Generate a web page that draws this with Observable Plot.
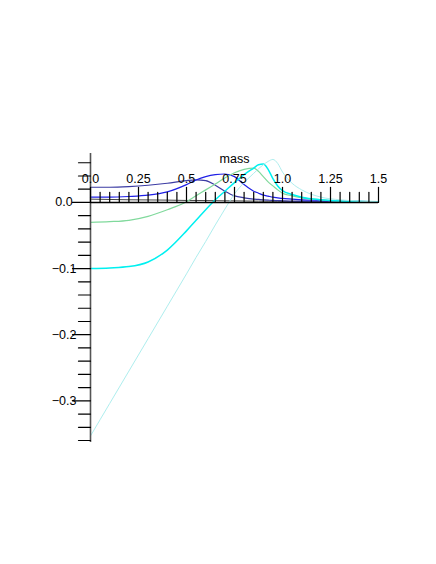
<!DOCTYPE html>
<html>
<head>
<meta charset="utf-8">
<script src="https://cdn.jsdelivr.net/npm/d3@7"></script>
<script src="https://cdn.jsdelivr.net/npm/@observablehq/plot@0.6"></script>
<style>
  html, body { margin: 0; padding: 0; background: #fff; }
  #chart { width: 436px; height: 564px; }
</style>
</head>
<body>
<div id="chart"></div>
<script>
// ---- data ----
const mass = [0, 0.1, 0.2, 0.3, 0.4, 0.5, 0.55, 0.6, 0.65, 0.7, 0.75, 0.8, 0.85, 0.875, 0.9, 0.925, 0.95, 0.975, 1.0, 1.05, 1.1, 1.2, 1.3, 1.4, 1.5];

const seriesNames = ["s0", "s1", "s2", "s3", "s4", "s5"];
const seriesColors = ["#444444", "#3b3ba3", "#2020e6", "#80d99c", "#00f0f0", "#aeeeee"];
const seriesWidths = [1, 1.2, 1.2, 1.2, 1.5, 1];

const s0 = [0.005, 0.0045, 0.004, 0.0038, 0.0035, 0.003, 0.003, 0.0028, 0.0027, 0.0025, 0.0024, 0.0022, 0.002, 0.002, 0.0019, 0.0018, 0.0018, 0.0017, 0.0016, 0.0015, 0.0014, 0.0012, 0.001, 0.0008, 0.0006];
const s1 = [0.023, 0.023, 0.024, 0.026, 0.029, 0.033, 0.034, 0.033, 0.026, 0.017, 0.010, 0.007, 0.005, 0.0045, 0.004, 0.0035, 0.003, 0.0028, 0.0025, 0.002, 0.002, 0.0015, 0.0012, 0.001, 0.001];
const s2 = [0.008, 0.008, 0.009, 0.011, 0.016, 0.027, 0.034, 0.039, 0.042, 0.043, 0.039, 0.027, 0.017, 0.014, 0.011, 0.0095, 0.008, 0.007, 0.006, 0.005, 0.004, 0.003, 0.002, 0.0015, 0.001];
const s3 = [-0.030, -0.029, -0.027, -0.021, -0.011, 0.001, 0.010, 0.019, 0.028, 0.037, 0.045, 0.050, 0.052, 0.047, 0.039, 0.031, 0.025, 0.019, 0.014, 0.010, 0.007, 0.004, 0.002, 0.0015, 0.001];
const s4 = [-0.100, -0.099, -0.097, -0.090, -0.072, -0.043, -0.027, -0.011, 0.004, 0.017, 0.030, 0.042, 0.052, 0.057, 0.058, 0.050, 0.036, 0.025, 0.018, 0.012, 0.008, 0.004, 0.002, 0.0015, 0.001];
const s5 = [-0.353, -0.304, -0.255, -0.206, -0.157, -0.108, -0.083, -0.059, -0.034, -0.010, 0.013, 0.030, 0.044, 0.051, 0.057, 0.062, 0.065, 0.059, 0.046, 0.029, 0.019, 0.008, 0.004, 0.002, 0.001];
const seriesValues = [s0, s1, s2, s3, s4, s5];

const xMajor = [0, 0.25, 0.5, 0.75, 1.0, 1.25, 1.5];
const xMajorLabels = ["0.0", "0.25", "0.5", "0.75", "1.0", "1.25", "1.5"];
const xMinor = [0.05, 0.1, 0.15, 0.2, 0.3, 0.35, 0.4, 0.45, 0.55, 0.6, 0.65, 0.7, 0.8, 0.85, 0.9, 0.95, 1.05, 1.1, 1.15, 1.2, 1.3, 1.35, 1.4, 1.45];
const yMajor = [0, -0.1, -0.2, -0.3];
const yMajorLabels = ["0.0", "\u22120.1", "\u22120.2", "\u22120.3"];
const yMinor = [0.06, 0.04, 0.02, -0.02, -0.04, -0.06, -0.08, -0.12, -0.14, -0.16, -0.18, -0.22, -0.24, -0.26, -0.28, -0.32, -0.34, -0.36];
const xDomain = [0, 1.5];
const yDomain = [-0.363, 0.074];
const xTitle = "mass";

// ---- tidy table ----
const rows = [];
seriesNames.forEach((name, k) => {
  mass.forEach((m, i) => rows.push({series: name, mass: m, value: seriesValues[k][i]}));
});

const tick = {draw(context, l) { context.moveTo(0, 0); context.lineTo(0, -l); }};

const lineMarks = seriesNames.map((name, k) =>
  Plot.line(rows.filter(d => d.series === name), {
    x: "mass", y: "value", curve: "monotone-x",
    stroke: seriesColors[k], strokeWidth: seriesWidths[k]
  })
);

const chart = Plot.plot({
  width: 436,
  height: 564,
  marginLeft: 90,
  marginRight: 58,
  marginTop: 153,
  marginBottom: 122,
  style: {fontFamily: "'Liberation Sans', Arial, sans-serif", fontSize: "12px", background: "#fff", color: "#000"},
  x: {domain: xDomain, axis: null},
  y: {domain: yDomain, axis: null},
  marks: [
    ...lineMarks,
    Plot.ruleX([0], {stroke: "#555", strokeWidth: 1.6}),
    Plot.ruleY([0], {stroke: "#000", strokeWidth: 1.4}),
    Plot.vector(xMajor, {x: d => d, y: 0, length: 15, rotate: 0, anchor: "start", shape: tick, stroke: "#000", strokeWidth: 1.2}),
    Plot.vector(xMinor, {x: d => d, y: 0, length: 10, rotate: 0, anchor: "start", shape: tick, stroke: "#000", strokeWidth: 1.2}),
    Plot.vector(yMajor, {x: 0, y: d => d, length: 18, rotate: -90, anchor: "start", shape: tick, stroke: "#000", strokeWidth: 1.2}),
    Plot.vector(yMinor, {x: 0, y: d => d, length: 12, rotate: -90, anchor: "start", shape: tick, stroke: "#000", strokeWidth: 1.2}),
    Plot.text(xMajor, {x: d => d, y: 0, text: (d, i) => xMajorLabels[i], dy: -23, textAnchor: "middle", fontSize: 12.5, fill: "#000"}),
    Plot.text(yMajor, {x: 0, y: d => d, text: (d, i) => yMajorLabels[i], dx: -26.5, textAnchor: "middle", fontSize: 12.5, fill: "#000"}),
    Plot.text([xTitle], {x: (xDomain[0] + xDomain[1]) / 2, y: 0, text: d => d, dy: -43, textAnchor: "middle", fontSize: 12.5, fill: "#000"})
  ]
});

document.getElementById("chart").append(chart);
</script>
</body>
</html>
